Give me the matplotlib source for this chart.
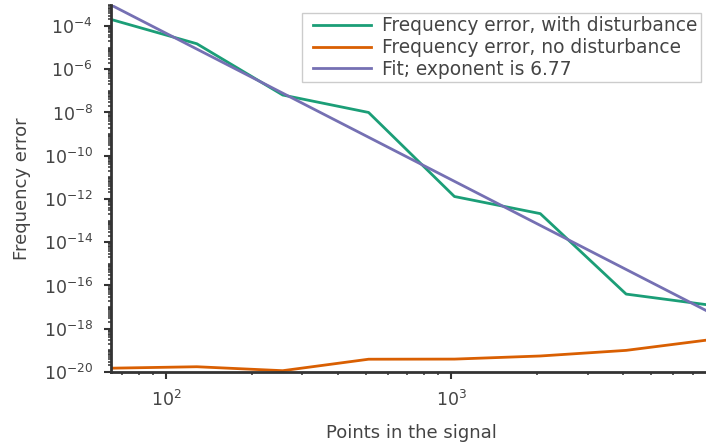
import numpy as np
import matplotlib
matplotlib.use('Agg')
import matplotlib.pyplot as plt
from matplotlib.ticker import LogLocator, FixedLocator, NullFormatter
from matplotlib.legend_handler import HandlerLine2D

# signal lengths and measured errors
points = [64, 128, 256, 512, 1024, 2048, 4096, 8192]
err_disturbed = [2.0e-4, 1.5e-5, 6.4e-8, 1.0e-8, 1.3e-12, 2.1e-13, 4.0e-17, 1.2e-17]
err_clean = [1.5e-20, 1.75e-20, 1.15e-20, 3.9e-20, 3.95e-20, 5.5e-20, 1.0e-19, 3.2e-19]

# power-law fit: err = fit_coef * N**-fit_exponent
fit_exponent = 6.77
fit_coef = 9.3e-4 * 64 ** fit_exponent

labels = ['Frequency error, with disturbance',
          'Frequency error, no disturbance',
          'Fit; exponent is %.2f' % fit_exponent]
colors = ['#1b9e77', '#d95f02', '#7570b3']

txt = '#444444'
plt.rcParams['font.size'] = 13
plt.rcParams['text.color'] = txt
plt.rcParams['axes.labelcolor'] = txt
plt.rcParams['xtick.color'] = '#333333'
plt.rcParams['ytick.color'] = '#333333'
plt.rcParams['xtick.labelcolor'] = txt
plt.rcParams['ytick.labelcolor'] = txt

fig = plt.figure(figsize=(7.06, 4.46), dpi=100)
ax = fig.add_axes([111 / 706, 74 / 446, 601 / 706, 367 / 446])

n = np.array(points, dtype=float)
ax.plot(points, err_disturbed, color=colors[0], lw=2, label=labels[0])
ax.plot(points, err_clean, color=colors[1], lw=2, label=labels[1])
ax.plot(points, fit_coef * n ** -fit_exponent, color=colors[2], lw=2, label=labels[2])

ax.set_xscale('log')
ax.set_yscale('log')
ax.set_xlim(64, 8192)
ax.set_ylim(1e-20, fit_coef * 64 ** -fit_exponent)

ax.yaxis.set_major_locator(FixedLocator(10.0 ** np.arange(-20, -3, 2)))
ax.yaxis.set_minor_locator(LogLocator(base=10, subs=np.arange(1, 10), numticks=200))
ax.yaxis.set_minor_formatter(NullFormatter())

for s in ['top', 'right']:
    ax.spines[s].set_visible(False)
for s in ['left', 'bottom']:
    ax.spines[s].set_linewidth(2)
    ax.spines[s].set_color('#333333')
ax.tick_params(which='major', length=5, width=1.5, pad=8, labelsize=12.5)
ax.tick_params(which='minor', length=2.5, width=1.1)

ax.set_xlabel('Points in the signal', labelpad=10)
ax.set_ylabel('Frequency error', labelpad=9)

leg = ax.legend(loc='upper right', bbox_to_anchor=(701 / 706, 433 / 446),
                bbox_transform=fig.transFigure, borderaxespad=0,
                handlelength=4.0, handletextpad=0.15, labelspacing=0.15,
                borderpad=0.18, fancybox=False, framealpha=1, fontsize=13.4,
                handler_map={plt.Line2D: HandlerLine2D(numpoints=2, marker_pad=0.45)})
leg.get_frame().set_edgecolor('#cccccc')

fig.savefig('out.png', dpi=100)
